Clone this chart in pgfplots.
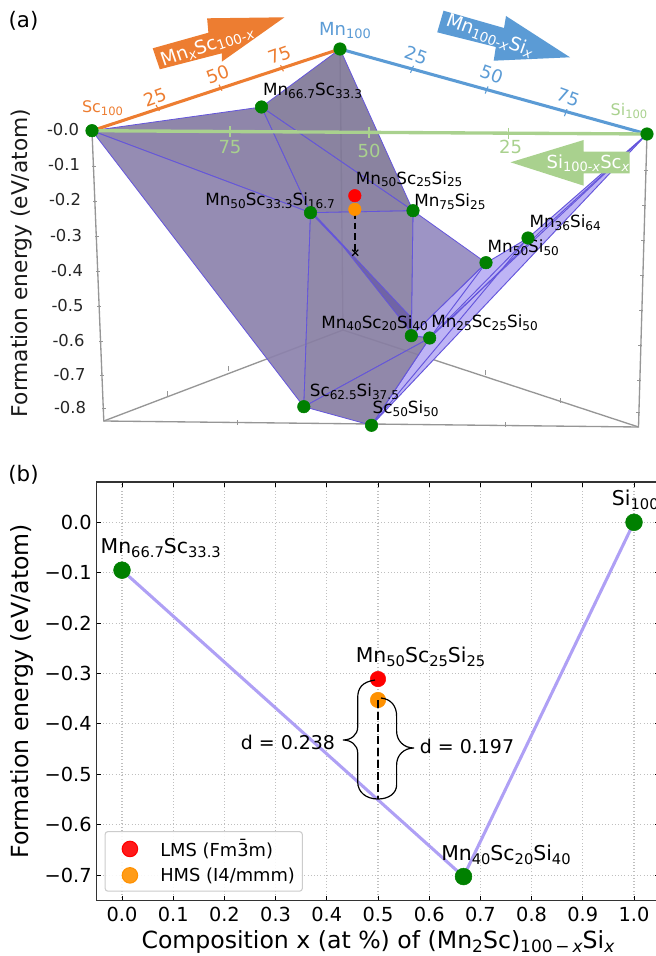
\documentclass[border=0pt]{standalone}
\usepackage{fontspec}
\setmainfont{DejaVu Sans}
\usepackage{pgfplots}
\pgfplotsset{compat=1.18}
\newcommand\fs[1]{\fontsize{#1}{#1}\selectfont}
\newcommand\sub[1]{\raisebox{-0.3ex}{\scalebox{0.72}{#1}}}
\definecolor{orA}{RGB}{237,125,49}
\definecolor{blA}{RGB}{91,155,213}
\definecolor{grA}{RGB}{169,209,142}
\definecolor{gd}{RGB}{0,128,0}
\definecolor{dor}{RGB}{255,145,0}
\definecolor{edge}{RGB}{100,85,220}
\definecolor{hull}{RGB}{175,160,245}
\definecolor{box}{RGB}{150,150,150}
\begin{document}
\begin{tikzpicture}
\useasboundingbox (0,0) rectangle (492pt,717pt);
% ---------- panel (b)
\begin{axis}[
  at={(72.3pt,41.5pt)},anchor=south west,
  width=422.4pt,height=314pt,scale only axis,
  xmin=-0.05,xmax=1.05,ymin=-0.7508,ymax=0.08,
  xtick={0,0.1,0.2,0.3,0.4,0.5,0.6,0.7,0.8,0.9,1},
  xticklabels={0.0,0.1,0.2,0.3,0.4,0.5,0.6,0.7,0.8,0.9,1.0},
  ytick={-0.7,-0.6,-0.5,-0.4,-0.3,-0.2,-0.1,0},
  yticklabels={−0.7,−0.6,−0.5,−0.4,−0.3,−0.2,−0.1,0.0},
  tick align=inside,major tick length=3.75pt,
  tick style={black,line width=0.75pt},
  axis line style={draw=black!80,line width=1.1pt},
  grid=major,grid style={dotted,black!25,line width=0.8pt},
  tick label style={font=\fs{14.5}},
  xticklabel style={yshift=-1pt},
  label style={font=\fs{17.7}},
  xlabel={Composition x (at \%) of (Mn\sub{2}Sc)\sub{100\,−\,\textit{x}}Si\sub{\textit{x}}},
  ylabel={Formation energy (eV/atom)},
  xlabel style={at={(axis description cs:0.5,-0.0986)},anchor=center},
  ylabel style={at={(axis description cs:-0.1321,0.5)},anchor=center},
  legend image code/.code={\path[draw=none,fill=none] (0,-0.1cm) rectangle (1.26cm,0.1cm);\draw[#1] plot coordinates {(0.53cm,0cm)};},
  legend style={at={(axis description cs:0.0146,0.0215)},anchor=south west,
    draw=black!20,line width=0.8pt,rounded corners=2pt,font=\fs{13.4},fill=white,fill opacity=0.9,text opacity=1,
    row sep=3pt,inner xsep=3.5pt,inner ysep=4pt},
  legend cell align=left,
  clip=false,
]
\addplot[hull,line width=2.3pt,forget plot] coordinates {(0,-0.095) (0.667,-0.703) (1,0)};
\addplot[only marks,mark=*,mark size=6.3pt,mark options={draw=gd,fill=gd},forget plot] coordinates {(0,-0.095) (0.667,-0.703) (1,0)};
\addplot[only marks,mark=*,mark size=5.8pt,mark options={draw=red,fill=red}] coordinates {(0.5,-0.311)};
\addlegendentry{LMS (Fm3̄m)}
\addplot[only marks,mark=*,mark size=5.8pt,mark options={draw=dor,fill=dor}] coordinates {(0.5,-0.3526)};
\addlegendentry{HMS (I4/mmm)}
\end{axis}
% ---------- panel (a) and annotations, in pixel coordinates
\begin{axis}[
  at={(0pt,0pt)},anchor=south west,
  width=492pt,height=717pt,scale only axis,
  xmin=0,xmax=656,ymin=0,ymax=956,y dir=reverse,
  hide axis,clip=false,
]
% gray box
\addplot[box,line width=1pt] coordinates {(92,131) (103.8,421) (638.5,427) (647,134)};
\addplot[box,line width=1pt] coordinates {(340,49) (343,330)};
\addplot[box,line width=1pt] coordinates {(103.8,421) (343,330) (638.5,427)};
% box ticks
\addplot[box,line width=0.7pt] coordinates {(92,166)(96,166)};
\addplot[box,line width=0.7pt] coordinates {(93,201)(97,201)};
\addplot[box,line width=0.7pt] coordinates {(95,236)(99,236)};
\addplot[box,line width=0.7pt] coordinates {(96,271)(100,271)};
\addplot[box,line width=0.7pt] coordinates {(97,306)(101,306)};
\addplot[box,line width=0.7pt] coordinates {(99,341)(103,341)};
\addplot[box,line width=0.7pt] coordinates {(100,375)(104,375)};
\addplot[box,line width=0.7pt] coordinates {(102,408)(106,408)};
\addplot[box,line width=0.7pt] coordinates {(644,170)(648,170)};
\addplot[box,line width=0.7pt] coordinates {(642,205)(646,205)};
\addplot[box,line width=0.7pt] coordinates {(641,240)(645,240)};
\addplot[box,line width=0.7pt] coordinates {(640,275)(644,275)};
\addplot[box,line width=0.7pt] coordinates {(639,310)(643,310)};
\addplot[box,line width=0.7pt] coordinates {(638,345)(642,345)};
\addplot[box,line width=0.7pt] coordinates {(637,380)(641,380)};
\addplot[box,line width=0.7pt] coordinates {(636,412)(640,412)};
\addplot[box,line width=0.7pt] coordinates {(237.7,420)(237.7,425)};
\addplot[box,line width=0.7pt] coordinates {(371,421)(371,426)};
\addplot[box,line width=0.7pt] coordinates {(505,422)(505,427)};
\addplot[box,line width=0.7pt] coordinates {(167.4,391)(167.4,396)};
\addplot[box,line width=0.7pt] coordinates {(228,366)(228,371)};
\addplot[box,line width=0.7pt] coordinates {(485.4,370)(485.4,375)};
\addplot[box,line width=0.7pt] coordinates {(560.7,398)(560.7,403)};
% faces
\addplot[fill={rgb,255:red,190;green,180;blue,245},draw=edge,line width=0.7pt] coordinates {(647,134) (528,238) (486,263) (411.3,335.7) (429.7,338) (371.5,425.3) (647,134)};
\addplot[fill={rgb,255:red,157;green,148;blue,197},draw=edge,line width=0.6pt] coordinates {(413,210.7) (486,262.7) (411.3,335.7) (413,210.7)};
\addplot[fill={rgb,255:red,128;green,120;blue,152},draw=edge,line width=0.6pt,fill opacity=0.92] coordinates {(261.5,107) (340,49) (413,210.7) (261.5,107)};
\addplot[fill={rgb,255:red,133;green,124;blue,163},draw=edge,line width=0.6pt,fill opacity=0.92] coordinates {(92,130.7) (261.5,107) (310.5,212.7) (92,130.7)};
\addplot[fill={rgb,255:red,140;green,130;blue,172},draw=edge,line width=0.6pt,fill opacity=0.92] coordinates {(92,130.7) (310.5,212.7) (303.8,406.7) (92,130.7)};
\addplot[fill={rgb,255:red,130;green,122;blue,155},draw=edge,line width=0.6pt,fill opacity=0.92] coordinates {(261.5,107) (413,210.7) (310.5,212.7) (261.5,107)};
\addplot[fill={rgb,255:red,136;green,127;blue,163},draw=edge,line width=0.6pt,fill opacity=0.92] coordinates {(310.5,212.7) (413,210.7) (411.3,335.7) (429.7,338) (303.8,406.7) (310.5,212.7)};
\addplot[fill={rgb,255:red,136;green,126;blue,163},draw=edge,line width=0.6pt,fill opacity=0.92] coordinates {(303.8,406.7) (429.7,338) (371.5,425.3) (303.8,406.7)};
% sliver
\addplot[fill={rgb,255:red,112;green,100;blue,165},draw=edge,line width=0.6pt] coordinates {(310.7,212.7) (343.3,246.7) (400,318.3) (411.5,333) (411.7,318) (312,212) (310.7,212.7)};
% strip inner edges
\addplot[edge,line width=0.7pt] coordinates {(647,134) (429.7,338)};
\addplot[edge,line width=0.7pt] coordinates {(528,238) (429.7,338)};
\addplot[edge,line width=0.7pt] coordinates {(528,238) (371.5,425.3)};
\addplot[edge,line width=0.7pt] coordinates {(486,263) (429.7,338)};
\addplot[edge,line width=0.7pt] coordinates {(647,134) (540,232) (450,320)};
% dash to hull
\addplot[black,line width=1.3pt,dash pattern=on 5pt off 3pt] coordinates {(355,212) (355,252)};
\addplot[only marks,mark=x,mark size=3.2pt,mark options={black,line width=0.9pt}] coordinates {(355.2,252.7)};
% edge lines
\addplot[orA,line width=2.3pt] coordinates {(92,130.7) (340,49)};
\addplot[blA,line width=2.3pt] coordinates {(340,49) (647,134)};
\addplot[grA,line width=2.5pt] coordinates {(92,130.7) (647,134)};
% scale ticks
\addplot[orA,line width=0.8pt] coordinates {(156,105)(159.4,111)};
\addplot[orA,line width=0.8pt] coordinates {(219,84.7)(222,90.7)};
\addplot[orA,line width=0.8pt] coordinates {(280.6,65.3)(283.4,71.3)};
\addplot[blA,line width=0.8pt] coordinates {(413.5,65.8)(410.5,72.8)};
\addplot[blA,line width=0.8pt] coordinates {(488,86.5)(485.2,93.5)};
\addplot[blA,line width=0.8pt] coordinates {(567,109.2)(564.4,116.2)};
\addplot[grA,line width=0.8pt] coordinates {(230,126.5)(230,137.5)};
\addplot[grA,line width=0.8pt] coordinates {(369,127.5)(369,138.5)};
\addplot[grA,line width=0.8pt] coordinates {(508.4,128)(508.4,139)};
% arrows
\addplot[fill=orA,draw=none] coordinates {(152.7,48.3) (208.4,32.7) (207.1,18.3) (284.5,17.3) (221.8,61.7) (221.8,53.3) (159.8,69.3) (152.7,48.3)};
\addplot[fill=blA,draw=none] coordinates {(443.5,10.7) (504,28) (506,16) (570,57.3) (493.7,60.7) (495.8,47) (437.2,32.3) (443.5,10.7)};
\addplot[fill=grA,draw=none] coordinates {(510.5,162.3) (583.7,140) (583.7,151.7) (629.7,151.7) (629.7,173.3) (583.7,173.3) (583.7,185.7) (510.5,162.3)};
% points
\addplot[only marks,mark=*,mark size=4.7pt,mark options={draw=gd,fill=gd}] coordinates {
 (92,130.7) (340,49) (647,134) (261.5,107) (310.5,212.7) (413,210.7) (528,238) (486,262.7)
 (411.3,335.7) (429.7,338) (303.8,406.7) (371.5,425.3)};
\addplot[only marks,mark=*,mark size=4.7pt,mark options={draw=red,fill=red}] coordinates {(354.8,195.7)};
\addplot[only marks,mark=*,mark size=4.7pt,mark options={draw=dor,fill=dor}] coordinates {(354.8,209.3)};
% text (a)
\def\T(#1,#2)#3{\node[anchor=west,inner sep=0pt,font=\fs{12.6},text=black] at (#1,#2) {#3};}
\T(262.8,90.7){Mn\sub{66.7}Sc\sub{33.3}}
\T(355.6,179.3){Mn\sub{50}Sc\sub{25}Si\sub{25}}
\T(205,201){Mn\sub{50}Sc\sub{33.3}Si\sub{16.7}}
\T(414,201.7){Mn\sub{75}Si\sub{25}}
\T(529.3,222.7){Mn\sub{36}Si\sub{64}}
\T(487.4,248){Mn\sub{50}Si\sub{50}}
\T(321,323.3){Mn\sub{40}Sc\sub{20}Si\sub{40}}
\T(431,322.7){Mn\sub{25}Sc\sub{25}Si\sub{50}}
\T(309.6,391.7){Sc\sub{62.5}Si\sub{37.5}}
\T(372.4,409){Sc\sub{50}Si\sub{50}}
% axis numbers (a)
\def\Y(#1,#2)#3{\node[anchor=center,inner sep=0pt,font=\fs{12.3},text=black!85] at (#1,#2) {#3};}
\Y(63,130){-0.0}\Y(64,165){-0.1}\Y(65,200){-0.2}\Y(66,236){-0.3}\Y(67,271){-0.4}\Y(67.5,306){-0.5}\Y(68.5,340.7){-0.6}\Y(69.5,375){-0.7}\Y(70,407.7){-0.8}
\node[rotate=90,inner sep=0pt,font=\fs{16.3},text=black!90] at (22,263) {Formation energy (eV/atom)};
% scale labels
\def\L(#1,#2,#3,#4)#5{\node[rotate=#4,inner sep=0pt,font=\fs{13.5},text=#3] at (#1,#2) {#5};}
\L(154.8,97,orA,20){25}\L(217.6,74,orA,20){50}\L(279.5,55,orA,20){75}
\L(416,55,blA,-20){25}\L(491.6,74,blA,-20){50}\L(568,97,blA,-20){75}
\L(230,146.7,grA,0){75}\L(369,150.7,grA,0){50}\L(510.5,146.7,grA,0){25}
\L(345,31,blA,0){\fs{13.5}Mn\sub{100}}
\L(102.5,108,orA,0){\fs{12}Sc\sub{100}}
\L(629,111,grA,0){\fs{12}Si\sub{100}}
\node[rotate=19,inner sep=0pt,font=\fs{14},text=white] at (207,46) {Mn\sub{\textit{x}}Sc\sub{100-\textit{x}}};
\node[rotate=-20,inner sep=0pt,font=\fs{14},text=white] at (490,36) {Mn\sub{100-\textit{x}}Si\sub{\textit{x}}};
\node[inner sep=0pt,font=\fs{13.5},text=white] at (588,163) {Si\sub{100-\textit{x}}Sc\sub{\textit{x}}};
\node[anchor=center,inner sep=0pt,font=\fs{16}] at (23.5,21) {(a)};
\node[anchor=center,inner sep=0pt,font=\fs{16}] at (23.5,475) {(b)};
% text (b)
\def\B(#1,#2)#3{\node[anchor=west,inner sep=0pt,font=\fs{15.3},text=black] at (#1,#2) {#3};}
\B(100.4,548){Mn\sub{66.7}Sc\sub{33.3}}
\B(611.7,500){Si\sub{100}}
\B(355.6,657){Mn\sub{50}Sc\sub{25}Si\sub{25}}
\B(441,855){Mn\sub{40}Sc\sub{20}Si\sub{40}}
\node[anchor=west,inner sep=0pt,font=\fs{14.2}] at (240.6,742) {d = 0.238};
\node[anchor=west,inner sep=0pt,font=\fs{14.2}] at (419.7,746.7) {d = 0.197};
% dashed and braces (b)
\addplot[black,line width=1.4pt,dash pattern=on 6pt off 3pt] coordinates {(378,700) (378,799)};
\draw[black,line width=0.9pt] (375,680) .. controls (362,682) and (357.7,688) .. (357.7,698) -- (357.7,727) .. controls (357.7,735) and (351,740) .. (343,740) .. controls (351,740) and (357.7,745) .. (357.7,753) -- (357.7,782) .. controls (357.7,792) and (366,799) .. (378,799);
\draw[black,line width=0.9pt] (381,698) .. controls (391,699) and (396.6,706) .. (396.6,716) -- (396.6,731) .. controls (396.6,741) and (404,748) .. (414,748) .. controls (404,748) and (396.6,755) .. (396.6,765) -- (396.6,785) .. controls (396.6,793) and (389,799) .. (378,799);
\end{axis}
\end{tikzpicture}
\end{document}
